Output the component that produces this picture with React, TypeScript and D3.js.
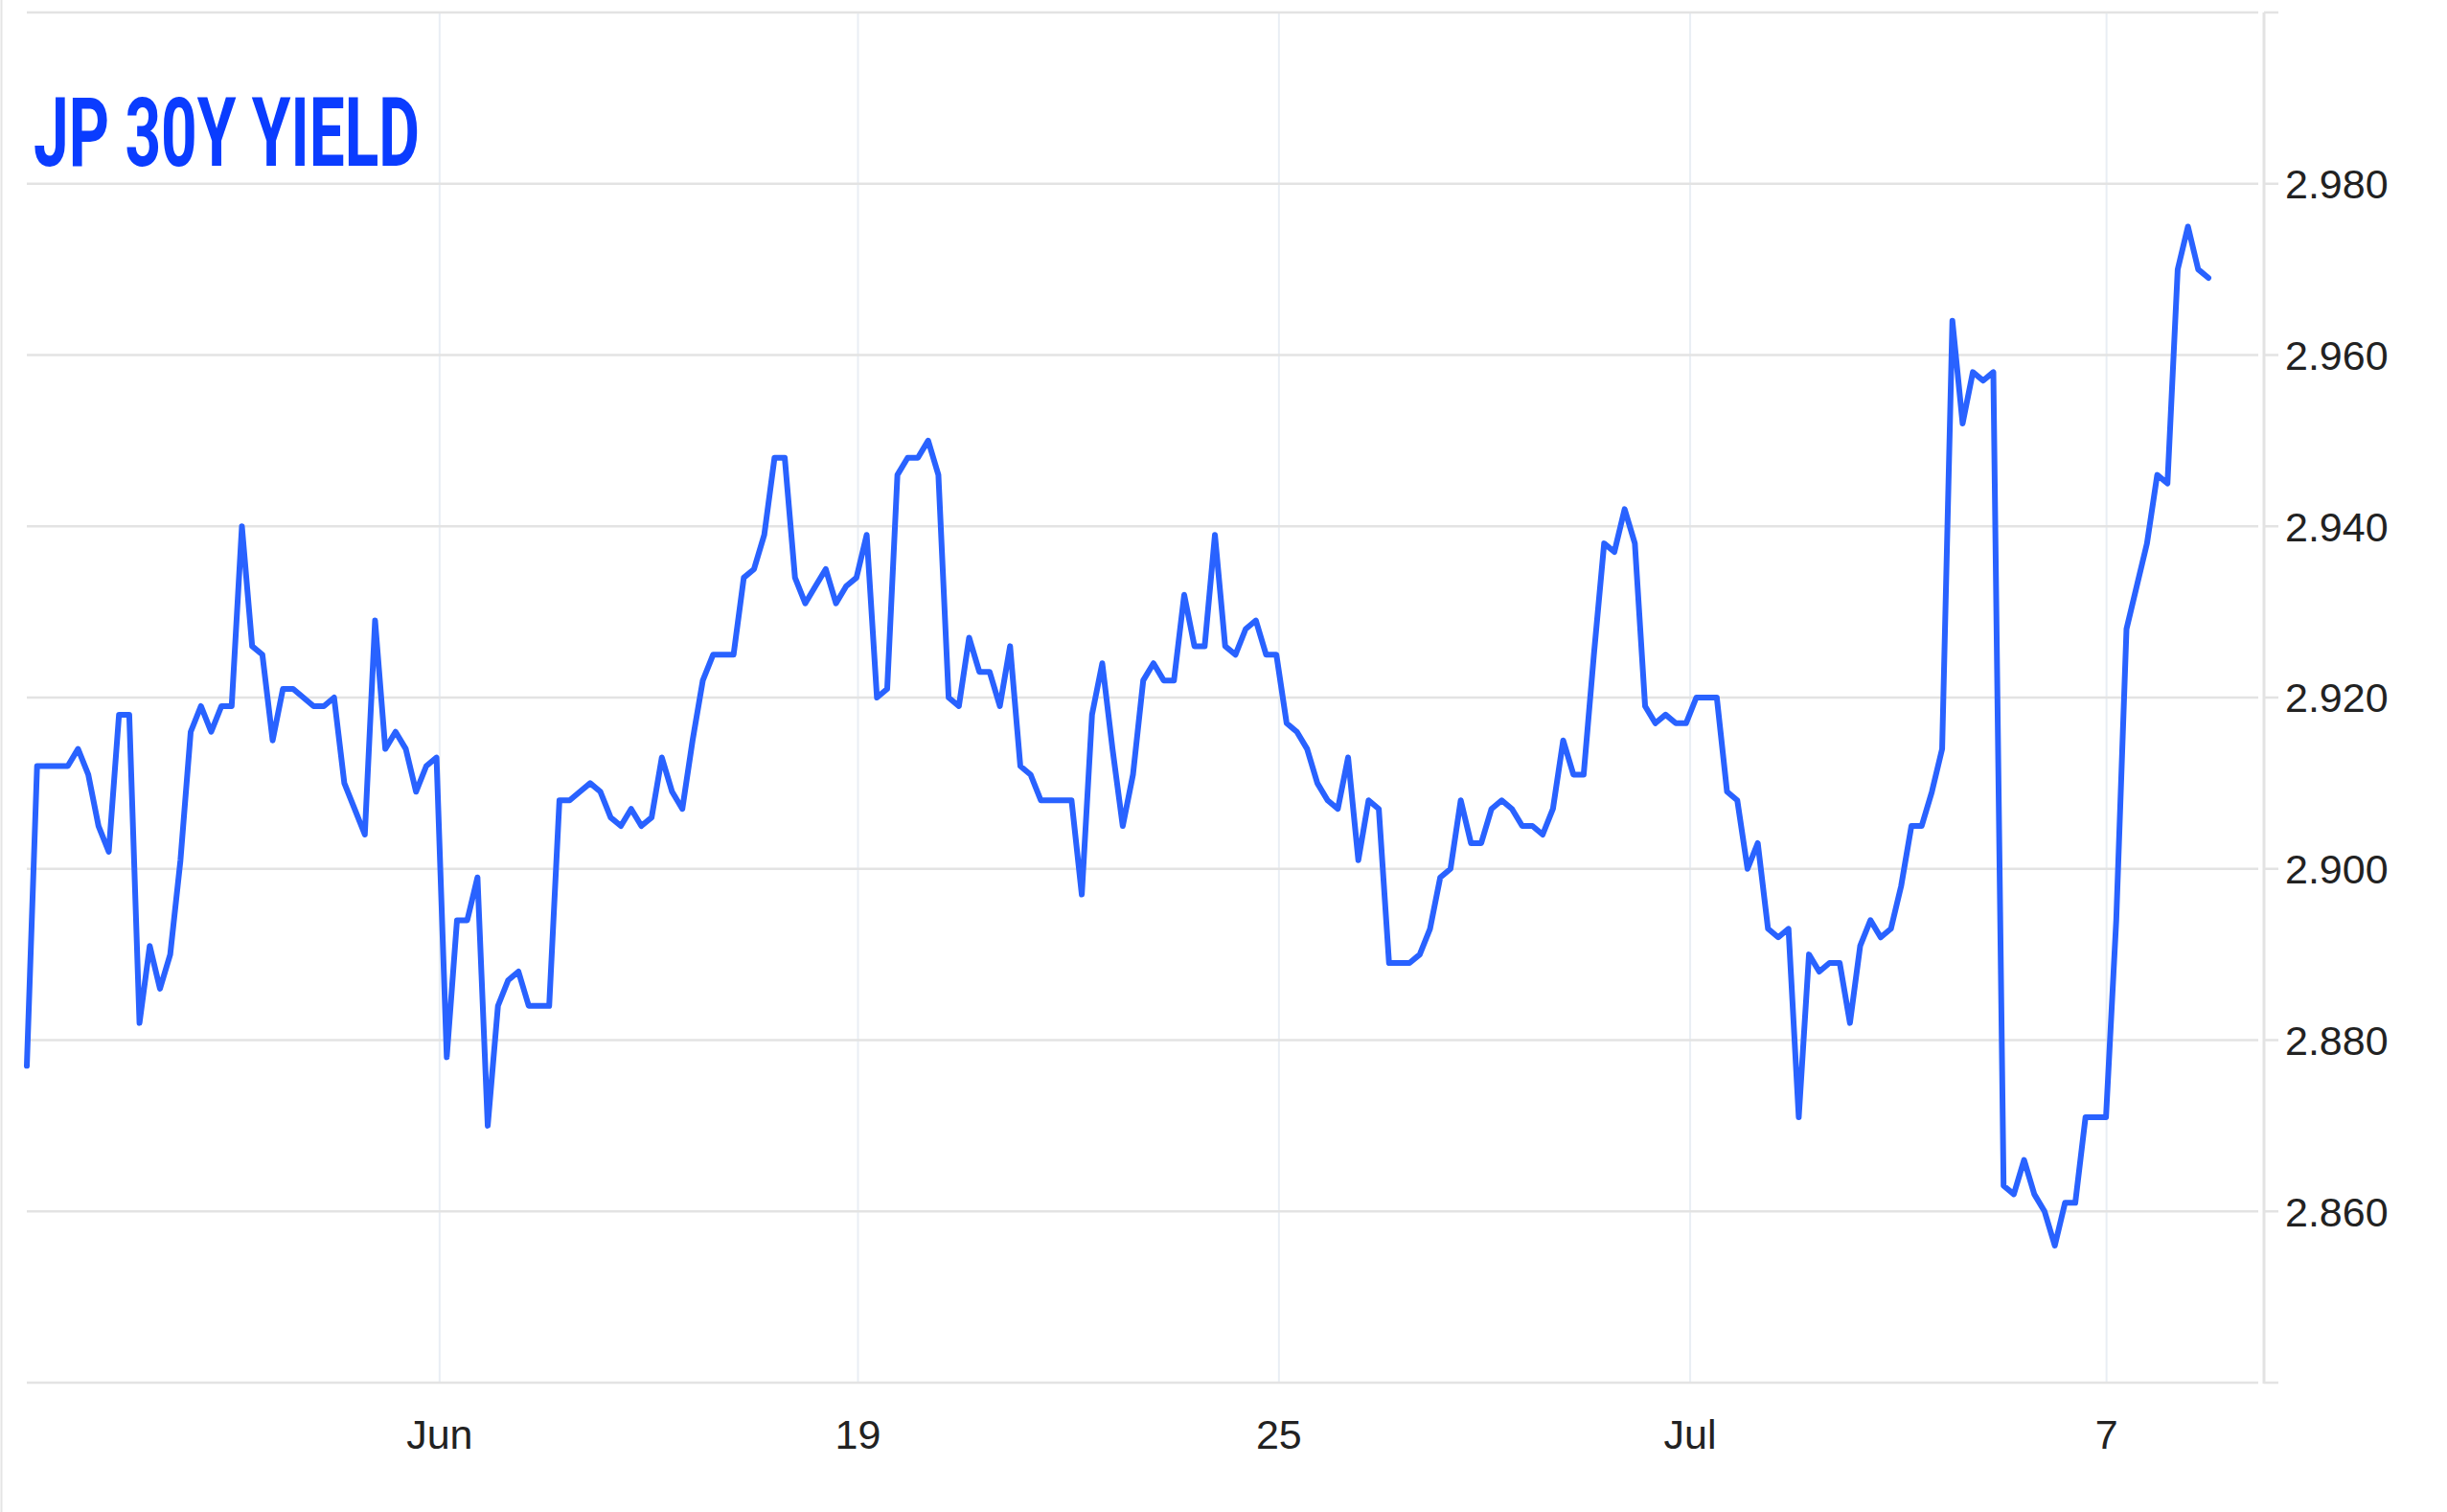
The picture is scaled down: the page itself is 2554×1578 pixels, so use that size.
import React from "react";
import * as d3 from "d3";

const TITLE = "JP 30Y YIELD";

const yields: number[] = [
  2.877, 2.912, 2.912, 2.912, 2.912, 2.914, 2.911, 2.905, 2.902, 2.918,
  2.918, 2.882, 2.891, 2.886, 2.890, 2.901, 2.916, 2.919, 2.916, 2.919,
  2.919, 2.940, 2.926, 2.925, 2.915, 2.921, 2.921, 2.920, 2.919, 2.919,
  2.920, 2.910, 2.907, 2.904, 2.929, 2.914, 2.916, 2.914, 2.909, 2.912,
  2.913, 2.878, 2.894, 2.894, 2.899, 2.870, 2.884, 2.887, 2.888, 2.884,
  2.884, 2.884, 2.908, 2.908, 2.909, 2.910, 2.909, 2.906, 2.905, 2.907,
  2.905, 2.906, 2.913, 2.909, 2.907, 2.915, 2.922, 2.925, 2.925, 2.925,
  2.934, 2.935, 2.939, 2.948, 2.948, 2.934, 2.931, 2.933, 2.935, 2.931,
  2.933, 2.934, 2.939, 2.920, 2.921, 2.946, 2.948, 2.948, 2.950, 2.946,
  2.920, 2.919, 2.927, 2.923, 2.923, 2.919, 2.926, 2.912, 2.911, 2.908,
  2.908, 2.908, 2.908, 2.897, 2.918, 2.924, 2.914, 2.905, 2.911, 2.922,
  2.924, 2.922, 2.922, 2.932, 2.926, 2.926, 2.939, 2.926, 2.925, 2.928,
  2.929, 2.925, 2.925, 2.917, 2.916, 2.914, 2.910, 2.908, 2.907, 2.913,
  2.901, 2.908, 2.907, 2.889, 2.889, 2.889, 2.890, 2.893, 2.899, 2.900,
  2.908, 2.903, 2.903, 2.907, 2.908, 2.907, 2.905, 2.905, 2.904, 2.907,
  2.915, 2.911, 2.911, 2.925, 2.938, 2.937, 2.942, 2.938, 2.919, 2.917,
  2.918, 2.917, 2.917, 2.920, 2.920, 2.920, 2.909, 2.908, 2.900, 2.903,
  2.893, 2.892, 2.893, 2.871, 2.890, 2.888, 2.889, 2.889, 2.882, 2.891,
  2.894, 2.892, 2.893, 2.898, 2.905, 2.905, 2.909, 2.914, 2.964, 2.952,
  2.958, 2.957, 2.958, 2.863, 2.862, 2.866, 2.862, 2.860, 2.856, 2.861,
  2.861, 2.871, 2.871, 2.871, 2.894, 2.928, 2.933, 2.938, 2.946, 2.945,
  2.970, 2.975, 2.970, 2.969,
];

const xTickLabels = ["Jun", "19", "25", "Jul", "7"];
const xTickIndex = [40.3, 81.15, 122.25, 162.4, 203.05];
const yTickLabels = [2.86, 2.88, 2.9, 2.92, 2.94, 2.96, 2.98];
const yDomain: [number, number] = [2.84, 3.0];

const W = 2554;
const H = 1578;

export default function App() {
  const plotLeft = 28;
  const plotRight = 2357;
  const axisX = 2363;
  const top = 13;
  const bottom = 1443;

  const x = d3
    .scaleLinear()
    .domain([0, yields.length - 1])
    .range([28, 2305]);
  const y = d3.scaleLinear().domain(yDomain).range([bottom, top]);

  const gridVals = d3.range(0, 9).map((i) => yDomain[0] + i * 0.02);

  const line = d3
    .line<number>()
    .x((_, i) => x(i))
    .y((d) => y(d));

  const fmt = d3.format(".3f");
  const labelFont = "'Liberation Sans', Arial, Helvetica, sans-serif";

  return (
    <svg
      width={W}
      height={H}
      viewBox={`0 0 ${W} ${H}`}
      style={{ position: "absolute", left: 0, top: 0, display: "block", background: "#ffffff" }}
    >
      <rect x={0} y={0} width={W} height={H} fill="#ffffff" />
      <line x1={1.5} x2={1.5} y1={0} y2={H} stroke="#e4e4e4" strokeWidth={2} />

      {/* vertical grid lines */}
      {xTickIndex.map((t, i) => (
        <line
          key={"vg" + i}
          x1={x(t)}
          x2={x(t)}
          y1={top}
          y2={bottom}
          stroke="#e9eef4"
          strokeWidth={2}
        />
      ))}

      {/* horizontal grid lines + tick stubs */}
      {gridVals.map((v, i) => (
        <g key={"hg" + i}>
          <line
            x1={plotLeft}
            x2={plotRight}
            y1={y(v)}
            y2={y(v)}
            stroke="#e3e3e3"
            strokeWidth={2.5}
          />
          <line
            x1={axisX}
            x2={2378}
            y1={y(v)}
            y2={y(v)}
            stroke="#e3e3e3"
            strokeWidth={2.5}
          />
        </g>
      ))}

      {/* right axis line */}
      <line x1={axisX} x2={axisX} y1={top} y2={bottom + 1} stroke="#e3e3e3" strokeWidth={3} />

      {/* y labels */}
      {yTickLabels.map((v, i) => (
        <text
          key={"yl" + i}
          x={2385}
          y={y(v)}
          dy="0.36em"
          fontFamily={labelFont}
          fontSize={43}
          fill="#222222"
        >
          {fmt(v)}
        </text>
      ))}

      {/* x labels */}
      {xTickLabels.map((lab, i) => (
        <text
          key={"xl" + i}
          x={x(xTickIndex[i])}
          y={1512}
          textAnchor="middle"
          fontFamily={labelFont}
          fontSize={43}
          fill="#222222"
        >
          {lab}
        </text>
      ))}

      {/* series line */}
      <path
        d={line(yields) || ""}
        fill="none"
        stroke="#2962ff"
        strokeWidth={6}
        strokeLinejoin="round"
        strokeLinecap="round"
      />

      {/* title */}
      <text
        x={35}
        y={173}
        fontFamily="Roboto, 'Liberation Sans', sans-serif"
        fontWeight={700}
        fontSize={101}
        fill="#0a3cff"
        textLength={403}
        lengthAdjust="spacingAndGlyphs"
      >
        {TITLE}
      </text>
    </svg>
  );
}
